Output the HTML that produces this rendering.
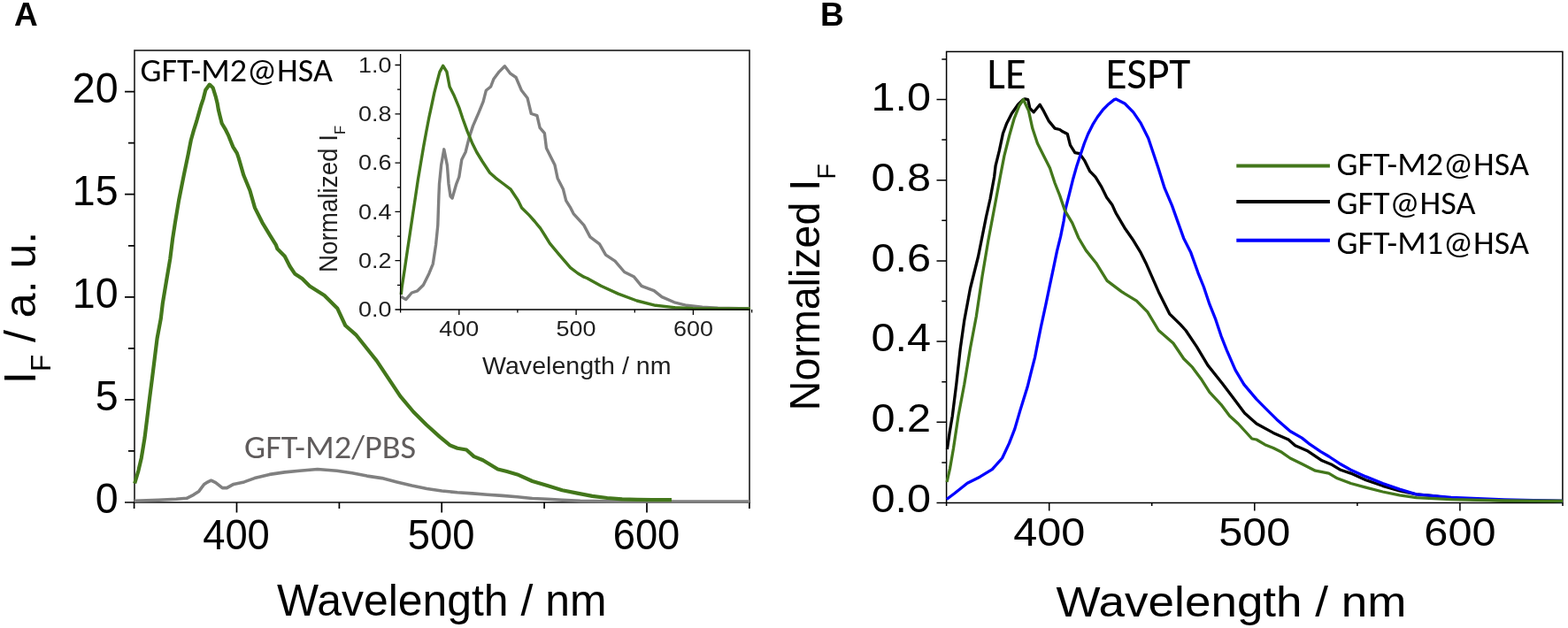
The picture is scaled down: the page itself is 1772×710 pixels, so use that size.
<!DOCTYPE html><html><head><meta charset="utf-8"><style>html,body{margin:0;padding:0;background:#fff;overflow:hidden}svg{display:block}</style></head><body>
<svg width="1772" height="710" viewBox="0 0 1772 710">
<rect width="1772" height="710" fill="#fff"/>
<text x="16" y="29" font-family="'Liberation Sans', Arial, sans-serif" font-weight="bold" font-size="37">A</text>
<text x="927" y="29" font-family="'Liberation Sans', Arial, sans-serif" font-weight="bold" font-size="37">B</text>
<rect x="152" y="57" width="695" height="511" fill="none" stroke="#1a1a1a" stroke-width="1.6"/>
<path d="M141,568.0H152 M141,451.9H152 M141,335.8H152 M141,219.7H152 M141,103.6H152 M145,509.9H152 M145,393.9H152 M145,277.8H152 M145,161.7H152 M267.5,568V579.5 M499.2,568V579.5 M731.0,568V579.5 M151.6,568V575 M383.4,568V575 M615.1,568V575 M846.9,568V575" stroke="#000" stroke-width="1.7" fill="none"/>
<text transform="translate(133.6,580.2) scale(0.980,1)" text-anchor="end" font-family="'Liberation Sans', Arial, sans-serif" font-size="47.5" fill="#000">0</text>
<text transform="translate(133.6,464.2) scale(0.980,1)" text-anchor="end" font-family="'Liberation Sans', Arial, sans-serif" font-size="47.5" fill="#000">5</text>
<text transform="translate(133.6,348.2) scale(0.980,1)" text-anchor="end" font-family="'Liberation Sans', Arial, sans-serif" font-size="47.5" fill="#000">10</text>
<text transform="translate(133.6,232.2) scale(0.980,1)" text-anchor="end" font-family="'Liberation Sans', Arial, sans-serif" font-size="47.5" fill="#000">15</text>
<text transform="translate(133.6,116.2) scale(0.980,1)" text-anchor="end" font-family="'Liberation Sans', Arial, sans-serif" font-size="47.5" fill="#000">20</text>
<text transform="translate(267.0,621.4) scale(0.955,1)" text-anchor="middle" font-family="'Liberation Sans', Arial, sans-serif" font-size="47.5" fill="#000">400</text>
<text transform="translate(498.7,621.4) scale(0.955,1)" text-anchor="middle" font-family="'Liberation Sans', Arial, sans-serif" font-size="47.5" fill="#000">500</text>
<text transform="translate(730.5,621.4) scale(0.955,1)" text-anchor="middle" font-family="'Liberation Sans', Arial, sans-serif" font-size="47.5" fill="#000">600</text>
<text x="313" y="696.4" font-family="'Liberation Sans', Arial, sans-serif" font-size="49.5" textLength="372.5" lengthAdjust="spacingAndGlyphs">Wavelength / nm</text>
<text transform="translate(39.5,434) rotate(-90)" font-family="'Liberation Sans', Arial, sans-serif" font-size="50">I<tspan font-size="31.5" dy="17.5">F</tspan><tspan dy="-17.5"> / a. u.</tspan></text>
<polyline points="151.8,566.2 179.4,565.2 199.2,564.3 211.0,563.3 218.9,559.3 224.8,555.4 230.7,547.5 233.5,545.7 238.6,543.2 243.7,545.7 251.3,551.6 256.4,551.6 264.0,547.4 275.9,544.9 287.7,540.6 304.6,536.4 321.6,533.9 338.5,532.2 358.8,530.5 380.8,532.2 397.8,534.7 414.7,538.1 431.6,540.6 448.5,544.9 465.5,549.1 482.4,552.5 499.3,555.0 516.9,556.7 533.9,557.9 550.8,559.3 567.7,560.4 584.6,561.8 601.6,563.5 618.5,564.3 635.4,565.2 655.7,566.4 700.0,567.0 847.0,567.0" fill="none" stroke="#808080" stroke-width="3.6" stroke-linejoin="round"/>
<polyline points="152.2,546.5 156.5,531.8 159.8,517.7 163.5,495.2 166.3,472.7 169.1,450.1 172.0,427.6 174.8,405.1 177.6,382.5 181.8,360.0 183.8,343.2 188.0,317.9 192.3,292.5 195.1,270.0 197.9,251.8 202.1,226.5 207.7,198.3 212.7,174.4 215.8,158.5 219.0,147.1 222.2,137.0 224.7,128.1 227.2,119.2 229.8,111.6 232.3,101.7 236.8,95.6 240.6,99.2 243.7,109.1 245.6,116.7 246.9,124.3 248.8,131.9 250.7,139.5 254.5,145.8 258.3,153.4 260.8,159.8 263.4,166.1 267.8,173.1 269.7,178.6 275.4,198.3 282.4,215.2 288.0,234.9 296.5,251.8 305.0,265.9 312.0,277.2 313.4,281.3 321.8,289.7 327.5,301.0 333.1,309.4 341.5,315.1 350.0,323.5 366.6,334.0 381.4,348.8 390.3,368.0 402.1,378.3 419.8,400.5 425.7,407.9 440.5,430.1 452.3,447.8 467.1,465.5 481.9,480.3 496.7,493.6 508.5,503.4 516.9,506.8 527.1,508.5 535.6,516.1 545.7,520.3 562.6,530.5 572.8,533.0 584.6,536.4 601.6,544.0 618.5,549.1 635.4,554.2 652.4,557.6 669.3,560.9 686.2,563.0 703.1,564.3 720.0,564.8 737.0,565.2 759.0,565.2" fill="none" stroke="#43771b" stroke-width="4.2" stroke-linejoin="round"/>
<text x="158.5" y="92" font-family="Carlito, Calibri, 'Liberation Sans', sans-serif" font-size="37.5" fill="#000" textLength="217.5" lengthAdjust="spacingAndGlyphs">GFT-M2@HSA</text>
<text x="276" y="517.6" font-family="Carlito, Calibri, 'Liberation Sans', sans-serif" font-size="37.5" fill="#605c5c" textLength="194.1" lengthAdjust="spacingAndGlyphs">GFT-M2/PBS</text>
<polyline points="453.3,335.4 458.7,338.6 465.3,331.0 471.8,328.8 478.4,322.3 484.9,309.2 489.3,298.3 492.6,276.4 494.8,254.6 495.9,221.8 496.5,207.9 498.6,186.8 501.8,168.8 505.4,186.8 507.0,207.9 509.0,221.8 511.1,224.0 515.5,208.7 518.8,200.0 521.8,180.4 526.1,172.0 530.3,155.1 534.5,142.4 540.9,127.6 546.1,114.9 549.3,102.3 554.6,98.0 557.8,89.6 564.1,81.1 570.4,74.8 576.8,83.2 583.1,87.5 589.4,102.3 596.0,110.7 600.3,128.5 606.9,130.6 610.1,144.4 615.4,150.7 617.5,167.6 621.7,176.1 627.0,186.6 630.1,201.4 636.5,214.1 639.7,226.8 644.9,235.2 648.1,241.6 659.9,254.6 666.9,267.9 677.5,275.8 684.5,288.1 695.0,295.1 705.6,307.5 716.2,312.7 725.0,323.3 739.1,328.6 747.9,335.6 762.0,341.8 776.1,345.3 793.7,347.1 811.3,348.3 848.0,349.0" fill="none" stroke="#808080" stroke-width="3.4" stroke-linejoin="round"/>
<polyline points="453.3,333.0 454.1,325.3 457.2,304.9 460.2,284.5 463.3,264.1 466.3,243.7 469.4,223.3 472.4,202.9 475.5,184.5 478.6,166.1 481.6,149.8 484.7,133.5 487.8,119.2 490.8,104.9 493.9,92.6 496.9,81.4 500.7,74.4 500.7,74.4 504.9,81.1 508.1,98.0 513.4,108.6 518.7,121.3 522.9,134.0 528.2,148.7 533.5,161.4 538.7,172.0 545.1,182.5 553.5,195.2 560.0,201.1 568.5,207.5 576.9,213.8 585.4,226.5 589.6,235.0 598.1,243.4 604.0,250.0 610.7,258.2 616.0,266.5 621.3,275.1 631.9,287.8 644.6,302.6 653.0,309.0 660.0,313.2 663.4,314.5 679.2,323.3 698.6,332.1 719.7,340.0 740.8,345.3 762.0,347.6 783.1,348.8 848.0,349.0" fill="none" stroke="#43771b" stroke-width="3.4" stroke-linejoin="round"/>
<path d="M452.6,61V353.5 M452.6,350H848 M446.5,350.0H452.6 M446.5,294.7H452.6 M446.5,239.4H452.6 M446.5,184.1H452.6 M446.5,128.8H452.6 M446.5,73.5H452.6 M449,322.4H452.6 M449,267.1H452.6 M449,211.8H452.6 M449,156.5H452.6 M449,101.2H452.6 M518.8,350V356 M651.1,350V356 M783.4,350V356 M584.9,350V353.5 M717.3,350V353.5 M849.6,350V353.5" stroke="#000" stroke-width="1.3" fill="none"/>
<text transform="translate(442.5,358.3) scale(1.100,1)" text-anchor="end" font-family="'Liberation Sans', Arial, sans-serif" font-size="24.5" fill="#1e1e1e">0.0</text>
<text transform="translate(442.5,303.0) scale(1.100,1)" text-anchor="end" font-family="'Liberation Sans', Arial, sans-serif" font-size="24.5" fill="#1e1e1e">0.2</text>
<text transform="translate(442.5,247.7) scale(1.100,1)" text-anchor="end" font-family="'Liberation Sans', Arial, sans-serif" font-size="24.5" fill="#1e1e1e">0.4</text>
<text transform="translate(442.5,192.4) scale(1.100,1)" text-anchor="end" font-family="'Liberation Sans', Arial, sans-serif" font-size="24.5" fill="#1e1e1e">0.6</text>
<text transform="translate(442.5,137.1) scale(1.100,1)" text-anchor="end" font-family="'Liberation Sans', Arial, sans-serif" font-size="24.5" fill="#1e1e1e">0.8</text>
<text transform="translate(442.5,81.8) scale(1.100,1)" text-anchor="end" font-family="'Liberation Sans', Arial, sans-serif" font-size="24.5" fill="#1e1e1e">1.0</text>
<text transform="translate(518.8,379.5) scale(1.100,1)" text-anchor="middle" font-family="'Liberation Sans', Arial, sans-serif" font-size="24.5" fill="#1e1e1e">400</text>
<text transform="translate(651.1,379.5) scale(1.100,1)" text-anchor="middle" font-family="'Liberation Sans', Arial, sans-serif" font-size="24.5" fill="#1e1e1e">500</text>
<text transform="translate(783.4,379.5) scale(1.100,1)" text-anchor="middle" font-family="'Liberation Sans', Arial, sans-serif" font-size="24.5" fill="#1e1e1e">600</text>
<text x="545" y="422.7" font-family="'Liberation Sans', Arial, sans-serif" font-size="28.5" fill="#1e1e1e" textLength="213.5" lengthAdjust="spacingAndGlyphs">Wavelength / nm</text>
<text transform="translate(381,308) scale(1.03,1) rotate(-90)" font-family="'Liberation Sans', Arial, sans-serif" font-size="27.8" fill="#1e1e1e">Normalized I<tspan font-size="16.5" dy="9.2">F</tspan></text>
<rect x="1069.6" y="58.4" width="696.3" height="510.1" fill="none" stroke="#000" stroke-width="1.5"/>
<path d="M1058.5,568.5H1069.6 M1058.5,477.3H1069.6 M1058.5,386.1H1069.6 M1058.5,294.9H1069.6 M1058.5,203.7H1069.6 M1058.5,112.5H1069.6 M1064.3,522.9H1069.6 M1064.3,431.7H1069.6 M1064.3,340.5H1069.6 M1064.3,249.3H1069.6 M1064.3,158.1H1069.6 M1064.3,66.9H1069.6 M1185.7,568.5V577.5 M1417.8,568.5V577.5 M1649.9,568.5V577.5 M1069.6,568.5V572 M1301.7,568.5V572 M1533.9,568.5V572 M1766.0,568.5V572" stroke="#000" stroke-width="1.5" fill="none"/>
<text transform="translate(1052.0,578.8) scale(1.080,1)" text-anchor="end" font-family="'Liberation Sans', Arial, sans-serif" font-size="45" fill="#000">0.0</text>
<text transform="translate(1052.0,488.0) scale(1.080,1)" text-anchor="end" font-family="'Liberation Sans', Arial, sans-serif" font-size="45" fill="#000">0.2</text>
<text transform="translate(1052.0,397.3) scale(1.080,1)" text-anchor="end" font-family="'Liberation Sans', Arial, sans-serif" font-size="45" fill="#000">0.4</text>
<text transform="translate(1052.0,306.5) scale(1.080,1)" text-anchor="end" font-family="'Liberation Sans', Arial, sans-serif" font-size="45" fill="#000">0.6</text>
<text transform="translate(1052.0,215.8) scale(1.080,1)" text-anchor="end" font-family="'Liberation Sans', Arial, sans-serif" font-size="45" fill="#000">0.8</text>
<text transform="translate(1052.0,125.0) scale(1.080,1)" text-anchor="end" font-family="'Liberation Sans', Arial, sans-serif" font-size="45" fill="#000">1.0</text>
<text transform="translate(1185.7,616.8) scale(1.080,1)" text-anchor="middle" font-family="'Liberation Sans', Arial, sans-serif" font-size="45" fill="#000">400</text>
<text transform="translate(1417.8,616.8) scale(1.080,1)" text-anchor="middle" font-family="'Liberation Sans', Arial, sans-serif" font-size="45" fill="#000">500</text>
<text transform="translate(1649.9,616.8) scale(1.080,1)" text-anchor="middle" font-family="'Liberation Sans', Arial, sans-serif" font-size="45" fill="#000">600</text>
<text x="1193.5" y="697" font-family="'Liberation Sans', Arial, sans-serif" font-size="48.8" textLength="396" lengthAdjust="spacingAndGlyphs">Wavelength / nm</text>
<text transform="translate(926,464.2) scale(1.03,1) rotate(-90)" font-family="'Liberation Sans', Arial, sans-serif" font-size="46.6">Normalized I<tspan font-size="29" dy="17.4">F</tspan></text>
<polyline points="1070.4,508.0 1073.0,490.0 1076.3,470.3 1080.8,434.2 1085.3,393.7 1089.8,362.0 1096.5,326.0 1105.5,290.0 1114.5,245.0 1119.0,225.0 1123.6,200.0 1125.1,187.3 1129.3,170.4 1133.5,150.7 1137.7,139.4 1143.4,128.2 1150.4,118.3 1156.1,112.7 1158.3,111.8 1161.7,112.7 1163.9,122.5 1168.2,126.8 1175.2,118.3 1179.4,125.4 1185.1,136.6 1192.1,145.1 1197.7,146.5 1200.0,148.3 1206.3,151.5 1209.5,164.2 1214.8,172.6 1220.1,173.7 1225.4,181.1 1231.7,193.7 1238.0,200.1 1244.4,210.6 1250.7,223.3 1257.0,231.8 1260.0,238.5 1261.1,240.8 1271.0,257.7 1280.8,271.8 1289.3,285.9 1294.9,297.2 1309.3,329.9 1321.7,354.8 1334.2,367.2 1340.0,373.5 1352.5,392.2 1364.9,412.9 1381.5,433.7 1394.0,450.3 1406.5,467.0 1420.0,479.0 1439.0,489.4 1456.1,497.0 1463.7,503.7 1477.0,509.4 1494.1,520.8 1505.5,525.6 1515.0,531.3 1526.5,535.1 1543.6,542.7 1562.6,549.3 1581.6,555.0 1600.6,558.8 1620.0,560.7 1640.0,563.3 1700.0,566.0 1766.0,566.5" fill="none" stroke="#000" stroke-width="3.3" stroke-linejoin="round"/>
<polyline points="1069.8,564.5 1079.1,557.5 1093.2,546.2 1107.3,539.2 1121.3,530.7 1132.6,518.0 1140.5,501.1 1146.8,484.9 1152.7,464.6 1156.9,451.1 1161.1,437.6 1165.3,420.7 1169.6,403.8 1172.9,386.9 1176.3,370.0 1181.8,344.6 1186.0,324.3 1190.3,304.1 1194.5,283.8 1198.7,266.9 1202.1,250.0 1204.2,236.0 1208.5,219.1 1212.7,202.2 1216.9,187.4 1221.1,174.7 1225.4,162.0 1229.6,151.5 1234.9,140.9 1240.1,132.5 1246.5,124.0 1252.8,117.7 1259.2,112.6 1261.1,112.0 1271.0,116.9 1280.8,126.8 1289.3,139.4 1297.7,156.3 1303.4,173.2 1309.0,190.1 1316.1,212.7 1324.5,232.4 1331.5,252.1 1337.7,269.4 1345.8,285.6 1353.9,308.3 1360.4,324.5 1366.9,343.9 1373.4,360.1 1379.9,379.6 1386.3,395.8 1396.1,418.4 1405.8,434.6 1420.0,451.4 1431.4,462.8 1442.8,474.2 1458.0,487.5 1471.3,495.1 1480.8,502.7 1492.2,510.3 1501.7,516.0 1513.2,523.7 1526.5,531.3 1543.6,538.9 1562.6,546.5 1581.6,553.1 1600.6,558.8 1620.0,560.7 1640.0,562.5 1700.0,565.0 1766.0,566.5" fill="none" stroke="#0000ff" stroke-width="3.3" stroke-linejoin="round"/>
<polyline points="1070.1,545.0 1073.5,530.0 1077.6,506.3 1083.0,470.3 1089.8,434.2 1096.5,393.7 1103.3,357.7 1110.0,312.6 1116.8,272.0 1123.6,236.0 1130.3,200.0 1134.9,176.1 1140.6,153.5 1146.2,133.8 1151.8,119.7 1156.5,112.5 1162.5,125.4 1166.8,145.1 1172.4,162.0 1179.4,176.1 1186.5,190.1 1192.1,207.0 1197.7,221.1 1203.4,238.0 1211.8,252.1 1218.9,269.0 1227.3,283.1 1238.6,297.2 1251.1,317.4 1267.7,329.9 1284.4,340.2 1296.8,352.7 1309.3,373.5 1325.9,388.0 1337.7,405.5 1347.5,415.2 1357.2,428.2 1366.9,443.4 1379.9,457.3 1389.6,470.3 1399.3,479.0 1414.8,496.0 1420.0,497.0 1429.5,502.7 1439.0,506.5 1448.5,511.3 1458.0,518.0 1471.3,524.6 1486.5,532.2 1501.7,535.1 1511.3,540.8 1526.5,546.5 1543.6,551.2 1562.6,556.0 1581.6,559.8 1600.6,562.6 1620.0,563.6 1640.0,564.6 1700.0,566.0 1766.0,566.5" fill="none" stroke="#43771b" stroke-width="3.3" stroke-linejoin="round"/>
<text x="1115.5" y="99.6" font-family="Carlito, Calibri, 'Liberation Sans', sans-serif" font-size="48.5" fill="#000" textLength="44.1" lengthAdjust="spacingAndGlyphs">LE</text>
<text x="1249.5" y="99.6" font-family="Carlito, Calibri, 'Liberation Sans', sans-serif" font-size="48.5" fill="#000" textLength="95.8" lengthAdjust="spacingAndGlyphs">ESPT</text>
<line x1="1397.3" y1="187.4" x2="1502.9" y2="187.4" stroke="#43771b" stroke-width="4"/>
<text x="1510.5" y="197.6" font-family="Carlito, Calibri, 'Liberation Sans', sans-serif" font-size="37.3" fill="#000" textLength="217.4" lengthAdjust="spacingAndGlyphs">GFT-M2@HSA</text>
<line x1="1397.3" y1="228.1" x2="1502.9" y2="228.1" stroke="#000" stroke-width="4"/>
<text x="1510.5" y="242.3" font-family="Carlito, Calibri, 'Liberation Sans', sans-serif" font-size="37.3" fill="#000" textLength="157.0" lengthAdjust="spacingAndGlyphs">GFT@HSA</text>
<line x1="1397.3" y1="271.7" x2="1502.9" y2="271.7" stroke="#0000ff" stroke-width="4"/>
<text x="1510.5" y="287" font-family="Carlito, Calibri, 'Liberation Sans', sans-serif" font-size="37.3" fill="#000" textLength="217.4" lengthAdjust="spacingAndGlyphs">GFT-M1@HSA</text>
</svg></body></html>
